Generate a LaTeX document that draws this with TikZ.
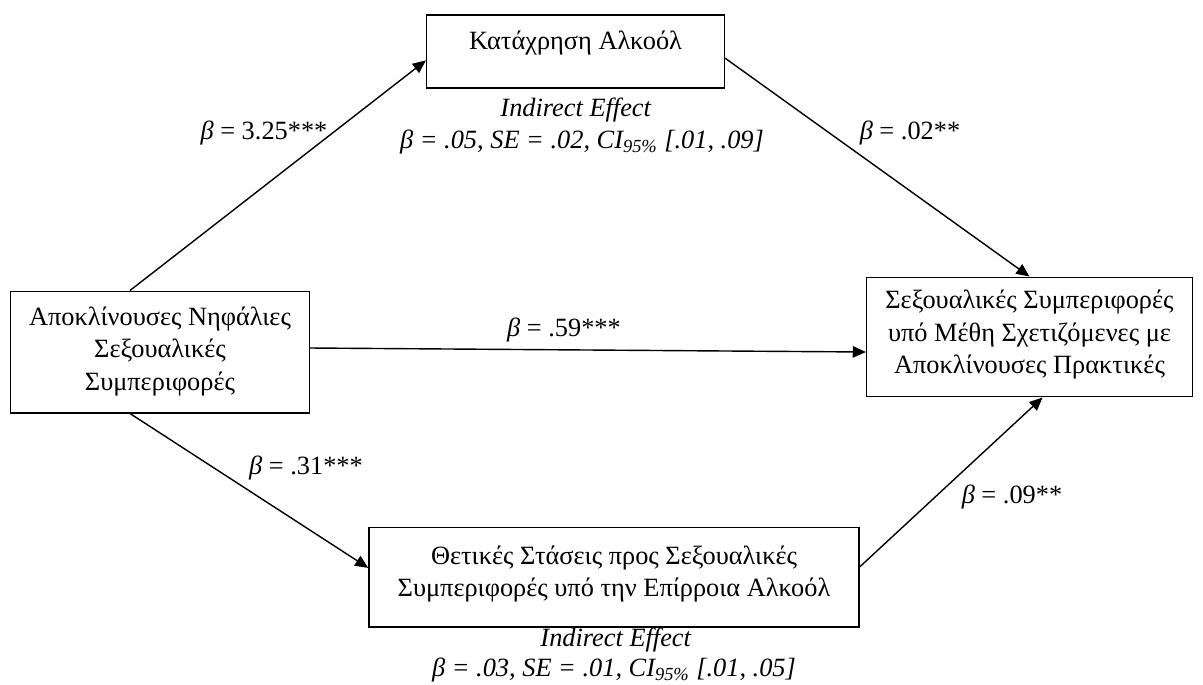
\documentclass[tikz,border=0pt]{standalone}
\usepackage{fontspec}
\setmainfont{Liberation Serif}
\usepackage{xcolor}
\usepackage{tikz}
\usetikzlibrary{calc,arrows.meta}

\begin{document}
\begin{tikzpicture}[
        x=0.02cm, y=-0.02cm,
        every node/.style = {font=\fontsize{15pt}{18.7pt}\selectfont},
        box/.style = {draw, rectangle, inner sep=0pt, line width=0.8pt},
        coef/.style = {inner sep=1pt},
        arrow/.style = {-{Triangle[length=7.5pt, width=6.5pt]}, line width=0.8pt}
    ]
    \useasboundingbox (0,0) rectangle (1203,684);

    % Mediator at the top
    \node[box] (abuse) at (575.5,51.5) {\parbox[c][41.4pt][t]{169.5pt}{\centering\vspace*{6.7pt}\strut Κατάχρηση Αλκοόλ}};

    % Predictor on the left, outcome on the right
    \node[box] (sober) at (160,352) {\parbox[c][69.2pt][t]{170.1pt}{\centering\vspace*{6.2pt}\strut Αποκλίνουσες Νηφάλιες\\ Σεξουαλικές\\ Συμπεριφορές}};
    \node[box] (drunk) at (1029.5,337) {\parbox[c][68pt][t]{185.4pt}{\centering\vspace*{4.5pt}\strut Σεξουαλικές Συμπεριφορές\\ υπό Μέθη Σχετιζόμενες με\\ Αποκλίνουσες Πρακτικές}};

    % Mediator at the bottom
    \node[box] (attitude) at (614,577) {\parbox[c][56.7pt][t]{278.9pt}{\centering\vspace*{7.9pt}\strut Θετικές Στάσεις προς Σεξουαλικές\\ Συμπεριφορές υπό την Επίρροια Αλκοόλ}};

    % Draw arrows between the boxes
    \draw[arrow] ($(sober.north west)!0.4!(sober.north east)$) -- ($(abuse.north west)!0.62!(abuse.south west)$);
    \draw[arrow] ($(abuse.north east)!0.59!(abuse.south east)$) -- (drunk.north);
    \draw[arrow] ($(sober.east)+(0,-4)$) -- ($(drunk.west)+(0,15)$);
    \draw[arrow] ($(sober.south west)!0.4!(sober.south east)$) -- ($(attitude.north west)!0.41!(attitude.south west)$);
    \draw[arrow] ($(attitude.north east)!0.4!(attitude.south east)$) -- ($(drunk.south west)!0.54!(drunk.south east)$);

    % Path coefficients
    \node[coef] (c1) at (264,133) {\textit{β} = 3.25***};
    \node[coef] (c2) at (910,133) {\textit{β} = .02**};
    \node[coef] (c3) at (564,330) {\textit{β} = .59***};
    \node[coef] (c4) at (306,468) {\textit{β} = .31***};
    \node[coef] (c5) at (1012,497) {\textit{β} = .09**};

    % Indirect effects
    \node[coef] (ind1) at (576,110) {\textit{Indirect Effect}};
    \node[coef] (ie1) at (582,142) {\textit{β = .05, SE = .02, CI\textsubscript{95\%} [.01, .09]}};
    \node[coef] (ind2) at (616,640) {\textit{Indirect Effect}};
    \node[coef] (ie2) at (614,670) {\textit{β = .03, SE = .01, CI\textsubscript{95\%} [.01, .05]}};

\end{tikzpicture}
\end{document}
